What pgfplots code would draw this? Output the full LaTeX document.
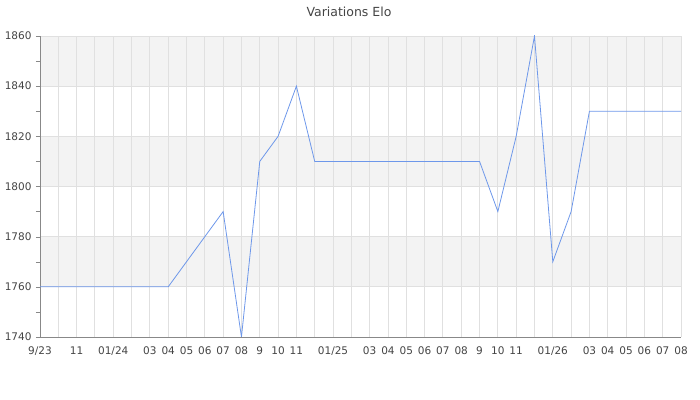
\documentclass[border=0pt]{standalone}
\usepackage{pgfplots}
\pgfplotsset{compat=1.18}
\usepackage{fontspec}
\setmainfont{DejaVu Sans}
\definecolor{txt}{HTML}{444444}
\definecolor{band}{HTML}{F3F3F3}
\definecolor{gridc}{HTML}{E0E0E0}
\definecolor{axc}{HTML}{888888}
\definecolor{elo}{HTML}{6D97EA}

\pgfplotstableread{
m elo
0 1760
7 1760
10 1790
11 1740
12 1810
13 1820
14 1840
15 1810
24 1810
25 1790
26 1820
27 1860
28 1770
29 1790
30 1830
35 1830
}\elodata

\begin{document}
\begin{tikzpicture}
\begin{axis}[
    set layers,
    scale only axis,
    width=641bp, height=301bp,
    xmin=0, xmax=35, ymin=1740, ymax=1860,
    axis x line=bottom, axis y line=left,
    axis line style={-, draw=axc},
    xtick={0,...,35},
    xticklabels={9/23,,11,,01/24,,03,04,05,06,07,08,9,10,11,,01/25,,03,04,05,06,07,08,9,10,11,,01/26,,03,04,05,06,07,08},
    ytick={1740,1760,...,1860},
    minor ytick={1750,1770,...,1850},
    xmajorgrids, ymajorgrids,
    grid style={draw=gridc, line width=0.9pt},
    tick align=outside,
    major tick length=4bp, minor tick length=4bp,
    x tick style={draw=none},
    y tick style={draw=axc},
    tick label style={text=txt, font=\fontsize{10.5bp}{12bp}\selectfont},
    /pgf/number format/assume math mode=true,
    /pgf/number format/set thousands separator={},
    yticklabel style={xshift=-1bp},
    xticklabel style={yshift=-2bp},
]
\begin{pgfonlayer}{axis background}
\fill[band] (axis cs:0,1760) rectangle (axis cs:35,1780);
\fill[band] (axis cs:0,1800) rectangle (axis cs:35,1820);
\fill[band] (axis cs:0,1840) rectangle (axis cs:35,1860);
\end{pgfonlayer}
\addplot[elo, line width=0.8pt, mark=none] table[x=m, y=elo] {\elodata};
\end{axis}
\node[text=txt, font=\fontsize{12.5bp}{14bp}\selectfont] at (309bp,325bp) {Variations Elo};
\pgfresetboundingbox
\path (-40bp,-63bp) rectangle (660bp,337bp);
\end{tikzpicture}
\end{document}
